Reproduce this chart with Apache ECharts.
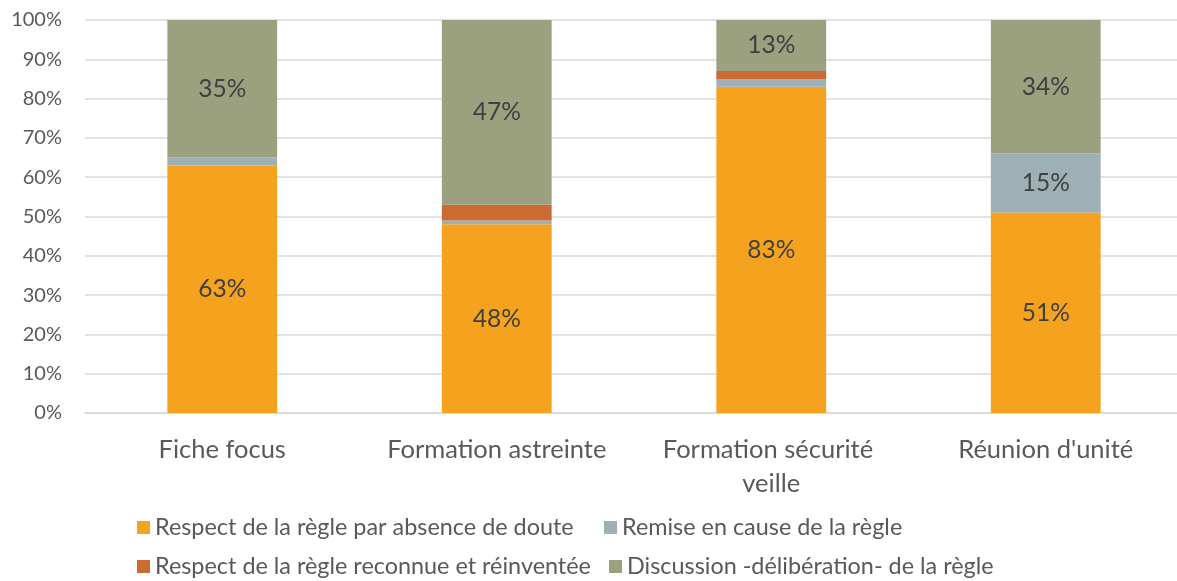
<!DOCTYPE html>
<html>
<head>
<meta charset="utf-8">
<script src="https://cdn.jsdelivr.net/npm/echarts@6/dist/echarts.min.js"></script>
<style>
  html, body { margin: 0; padding: 0; background: #ffffff; overflow: hidden; }
  /* the plot area runs a few pixels past the right edge of the window */
  #chart { width: 1183px; height: 581px; }
</style>
</head>
<body>
<div id="chart"></div>
<script>
// Categories (x axis)
const categories = ['Fiche focus', 'Formation astreinte', 'Formation sécurité veille', "Réunion d'unité"];

// Shares per category, in percent, stacked bottom to top
const absenceDoute = [63, 48, 83, 51];
const remiseEnCause = [2, 1, 2, 15];
const reconnueReinventee = [0, 4, 2, 0];
const discussion = [35, 47, 13, 34];

// Series names, as shown in the legend
const seriesNames = [
  'Respect de la règle par absence de doute',
  'Remise en cause de la règle',
  'Respect de la règle reconnue et réinventée',
  'Discussion -délibération- de la règle'
];

// Y axis ticks
const yMin = 0, yMax = 100, yStep = 10;

const colors = ['#F5A31E', '#9DB0B5', '#CC6A34', '#9BA07E'];
const FONT = 'Lato, "DejaVu Sans", sans-serif';

const seriesData = [absenceDoute, remiseEnCause, reconnueReinventee, discussion];

const chart = echarts.init(document.getElementById('chart'), null, { renderer: 'canvas' });

// One legend block per item so the two rows line up in columns
const legendPos = [
  { left: 137, top: 516 },
  { left: 604, top: 516 },
  { left: 137, top: 555 },
  { left: 609, top: 555 }
];
const legends = seriesNames.map((name, i) => ({
  data: [name],
  left: legendPos[i].left,
  top: legendPos[i].top,
  orient: 'horizontal',
  icon: 'rect',
  itemWidth: 13,
  itemHeight: 13,
  itemGap: 0,
  padding: 0,
  selectedMode: false,
  textStyle: { fontFamily: FONT, fontSize: 23.4, color: '#595959' }
}));

chart.setOption({
  animation: false,
  color: colors,
  grid: { left: 85, right: 0, top: 20, bottom: 168, containLabel: false },
  legend: legends,
  xAxis: {
    type: 'category',
    data: categories,
    axisLine: { show: true, lineStyle: { color: '#d9d9d9', width: 1.5 } },
    axisTick: { show: false },
    axisLabel: {
      fontFamily: FONT,
      fontSize: 25.5,
      color: '#595959',
      margin: 20,
      width: 255,
      overflow: 'break',
      lineHeight: 34,
      interval: 0
    }
  },
  yAxis: {
    type: 'value',
    min: yMin,
    max: yMax,
    interval: yStep,
    axisLine: { show: false },
    axisTick: { show: false },
    splitLine: { lineStyle: { color: '#d9d9d9', width: 1.5 } },
    axisLabel: {
      fontFamily: FONT,
      fontSize: 20,
      color: '#595959',
      margin: 23,
      formatter: '{value}%'
    }
  },
  series: seriesNames.map((name, i) => ({
    name: name,
    type: 'bar',
    stack: 'total',
    barCategoryGap: '60%',
    data: seriesData[i],
    itemStyle: { color: colors[i] },
    label: {
      show: true,
      position: 'inside',
      fontFamily: FONT,
      fontSize: 24.5,
      color: '#404040',
      formatter: p => (p.value >= 10 ? p.value + '%' : '')
    }
  }))
});
</script>
</body>
</html>
